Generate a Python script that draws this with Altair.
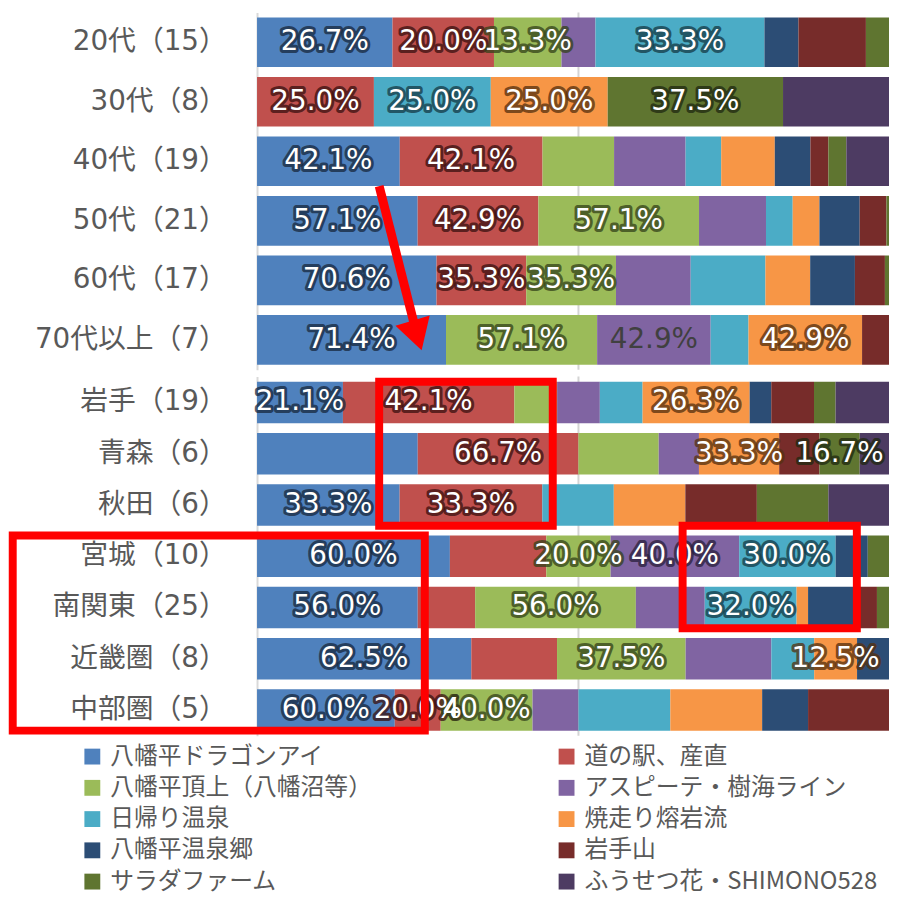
import altair as alt
import pandas as pd

# ---- categories (rows) ----
rows_top = ["20代（15）", "30代（8）", "40代（19）", "50代（21）", "60代（17）", "70代以上（7）"]
rows_bottom = ["岩手（19）", "青森（6）", "秋田（6）", "宮城（10）", "南関東（25）", "近畿圏（8）", "中部圏（5）"]
rows = rows_top + rows_bottom

# ---- series (legend order) ----
categories = ["八幡平ドラゴンアイ", "道の駅、産直", "八幡平頂上（八幡沼等）", "アスピーテ・樹海ライン",
              "日帰り温泉", "焼走り熔岩流", "八幡平温泉郷", "岩手山", "サラダファーム", "ふうせつ花・SHIMONO528"]
colors = ["#4F81BD", "#C0504D", "#9BBB59", "#8064A2", "#4BACC6",
          "#F79646", "#2C4D75", "#772C2A", "#5F7530", "#4D3B62"]
glows = ["#18283e", "#3a1110", "#34421a", "#2a1f3c", "#153a45",
         "#55300f", "#0f1a28", "#280e0d", "#202810", "#1a1422"]

# percentages per series, one value per row (rows order above)
dragon_eye  = [26.7, 0.0, 42.1, 57.1, 70.6, 71.4, 21.1, 66.7, 33.3, 60.0, 56.0, 62.5, 60.0]
michi_eki   = [20.0, 25.0, 42.1, 42.9, 35.3, 0.0, 42.1, 66.7, 33.3, 30.0, 20.0, 25.0, 20.0]
summit      = [13.3, 0.0, 21.1, 57.1, 35.3, 57.1, 10.5, 33.3, 0.0, 20.0, 56.0, 37.5, 40.0]
aspite      = [6.7, 0.0, 21.1, 23.8, 29.4, 42.9, 10.5, 16.7, 0.0, 40.0, 24.0, 25.0, 20.0]
day_onsen   = [33.3, 25.0, 10.5, 9.5, 29.4, 14.3, 10.5, 0.0, 16.7, 30.0, 32.0, 12.5, 40.0]
yakehashiri = [0.0, 25.0, 15.8, 9.5, 17.6, 42.9, 26.3, 33.3, 16.7, 0.0, 4.0, 12.5, 40.0]
onsenkyo    = [6.7, 0.0, 10.5, 14.3, 17.6, 0.0, 5.3, 0.0, 0.0, 10.0, 16.0, 12.5, 20.0]
iwatesan    = [13.3, 0.0, 5.3, 9.5, 11.8, 14.3, 10.5, 16.7, 16.7, 0.0, 8.0, 0.0, 40.0]
salad_farm  = [6.7, 37.5, 5.3, 4.8, 5.9, 0.0, 5.3, 16.7, 16.7, 10.0, 8.0, 0.0, 0.0]
fusetsu     = [0.0, 25.0, 15.8, 0.0, 0.0, 0.0, 15.8, 16.7, 16.7, 0.0, 0.0, 0.0, 0.0]
series = [dragon_eye, michi_eki, summit, aspite, day_onsen, yakehashiri,
          onsenkyo, iwatesan, salad_farm, fusetsu]

# which data labels are displayed (series indices per row)
shown_labels = {
    "20代（15）": [0, 1, 2, 4], "30代（8）": [1, 4, 5, 8], "40代（19）": [0, 1],
    "50代（21）": [0, 1, 2], "60代（17）": [0, 1, 2], "70代以上（7）": [0, 2, 3, 5],
    "岩手（19）": [0, 1, 5], "青森（6）": [1, 5, 8], "秋田（6）": [0, 1],
    "宮城（10）": [0, 2, 3, 4], "南関東（25）": [0, 2, 4], "近畿圏（8）": [0, 2, 5],
    "中部圏（5）": [0, 1, 2],
}
plain_labels = [("70代以上（7）", 3)]

# annotations (in data units: x share of row total, rows)
box_x0 = [0.190, -0.380, 0.662]
box_x1 = [0.460, 0.261, 0.933]
box_row0 = ["岩手（19）", "宮城（10）", "秋田（6）"]
box_row1 = ["秋田（6）", "中部圏（5）", "南関東（25）"]
box_top_band = [0, 0, 1]
arrow_x = [0.190, 0.249]
arrow_rows = ["40代（19）", "70代以上（7）"]
arrow_band = [1.0, 0.41]

# ---- build table ----
recs = []
for ri, r in enumerate(rows):
    for ci, c in enumerate(categories):
        v = series[ci][ri]
        show = ci in shown_labels[r]
        plain = (r, ci) in plain_labels
        recs.append({
            "row": r, "panel": "top" if r in rows_top else "bottom",
            "cat": c, "order": ci, "pct": v,
            "label": f"{v:.1f}%" if show else "",
            "show": show, "plain": plain,
            "glow": glows[ci], "txt": "#404040" if plain else "#FFFFFF",
        })
df = pd.DataFrame(recs)

# legend lists entries column by column: order the domain so it reads row by row
leg_idx = list(range(0, 10, 2)) + list(range(1, 10, 2))
leg_domain = [categories[i] for i in leg_idx]
leg_range = [colors[i] for i in leg_idx]

LABEL_FONT = "DejaVu Sans, Noto Sans CJK JP"
PLOT_W = 637
XMAX = PLOT_W / 648
xscale = alt.Scale(domain=[0, XMAX], nice=False, zero=False)

legend = alt.Legend(title=None, orient="none", legendX=-178, legendY=738, columns=2,
                    symbolType="square", symbolSize=256, symbolStrokeWidth=0,
                    labelFont="Noto Sans CJK JP", labelFontSize=24, labelColor="#595959",
                    labelOffset=6, labelLimit=300, columnPadding=184, rowPadding=7.5,
                    padding=0)


def panel(rws, name, height, pin, pout):
    yscale = alt.Scale(domain=rws, paddingInner=pin, paddingOuter=pout)
    yax = alt.Axis(title=None, labelFont=LABEL_FONT, labelFontSize=28, labelColor="#595959",
                   ticks=False, tickSize=0, labelPadding=31, domainColor="#d9d9d9",
                   domainWidth=2, labelLimit=400)
    base = alt.Chart(df).transform_filter(alt.datum.panel == name).transform_stack(
        stack="pct", as_=["x0", "x1"], groupby=["row"],
        sort=[alt.SortField("order", order="ascending")], offset="normalize"
    ).transform_calculate(mid="(datum.x0 + datum.x1) / 2")

    grid = alt.Chart(pd.DataFrame({"g": [0.5]})).mark_rule(
        color="#d4d4d4", strokeWidth=2).encode(x=alt.X("g:Q", scale=xscale, axis=None))

    bars = base.mark_bar(clip=True).encode(
        x=alt.X("x0:Q", scale=xscale, axis=None), x2="x1:Q",
        y=alt.Y("row:N", sort=None, scale=yscale, axis=yax),
        color=alt.Color("cat:N", scale=alt.Scale(domain=leg_domain, range=leg_range), legend=legend),
    )
    lab = base.transform_filter(alt.datum.show == True)
    glow = lab.transform_filter(alt.datum.plain == False).mark_text(
        font="DejaVu Sans", fontSize=28, strokeWidth=6, strokeJoin="round",
        strokeOpacity=0.75, fillOpacity=0.75).encode(
        x=alt.X("mid:Q", axis=None), y=alt.Y("row:N", sort=None, scale=yscale),
        text="label:N", fill=alt.Fill("glow:N", scale=None), stroke=alt.Stroke("glow:N", scale=None))
    txt = lab.mark_text(font="DejaVu Sans", fontSize=28).encode(
        x=alt.X("mid:Q", axis=None), y=alt.Y("row:N", sort=None, scale=yscale),
        text="label:N", fill=alt.Fill("txt:N", scale=None))
    layers = [grid, bars, glow, txt]

    if name == "bottom":
        bdf = pd.DataFrame({"x0": box_x0, "x1": box_x1, "r0": box_row0, "r1": box_row1,
                            "tb": box_top_band})
        for tb in sorted(set(box_top_band)):
            layers.append(alt.Chart(bdf).transform_filter(alt.datum.tb == tb).mark_rect(
                filled=False, stroke="#FF0000", strokeWidth=8).encode(
                x=alt.X("x0:Q", axis=None), x2="x1:Q",
                y=alt.Y("r0:N", sort=None, scale=yscale, bandPosition=tb),
                y2=alt.Y2("r1:N", bandPosition=1)))
    else:
        adf = pd.DataFrame({"x0": [arrow_x[0]], "x1": [arrow_x[1]],
                            "r0": [arrow_rows[0]], "r1": [arrow_rows[1]]})
        layers.append(alt.Chart(adf).mark_rule(color="#FF0000", strokeWidth=9).encode(
            x=alt.X("x0:Q", axis=None), x2="x1:Q",
            y=alt.Y("r0:N", sort=None, scale=yscale, bandPosition=arrow_band[0]),
            y2=alt.Y2("r1:N", bandPosition=arrow_band[1])))
        hdf = pd.DataFrame({"x": [arrow_x[1]], "r": [arrow_rows[1]]})
        layers.append(alt.Chart(hdf).mark_point(
            shape="triangle-down", filled=True, color="#FF0000", size=1300, angle=343, opacity=1).encode(
            x=alt.X("x:Q", axis=None),
            y=alt.Y("r:N", sort=None, scale=yscale, bandPosition=arrow_band[1])))

    return alt.layer(*layers).properties(width=PLOT_W, height=height)


top = panel(rows_top, "top", 360, 10 / 60, 5 / 60)
bottom = panel(rows_bottom, "bottom", 362, 0.19, 0.1)

chart = alt.vconcat(top, bottom, spacing=5).resolve_scale(
    x="shared", y="independent", color="shared"
).properties(
    padding={"left": 0, "top": 0, "right": 0, "bottom": 0}
).configure_view(stroke=None)

chart.save("out.html", embed_options={"renderer": "svg", "actions": False})
